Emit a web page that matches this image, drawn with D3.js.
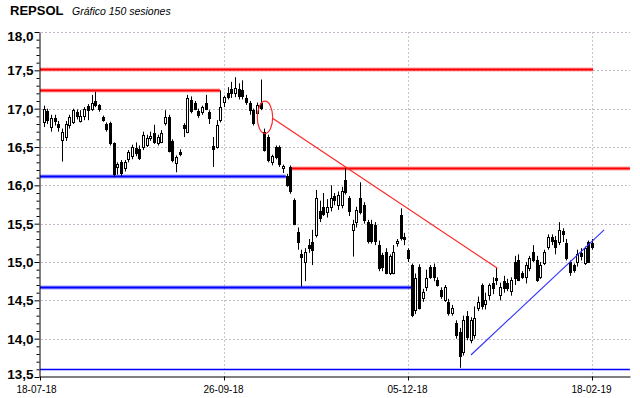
<!DOCTYPE html>
<html><head><meta charset="utf-8">
<script src="https://cdn.jsdelivr.net/npm/d3@7/dist/d3.min.js"></script>
<style>body{margin:0;background:#fff}svg{display:block}</style></head>
<body><svg id="c" width="640" height="398"></svg>
<script>
// ---- data (sessions 1..150) ----
const opens=[16.82,16.97,16.76,16.88,16.80,16.59,16.63,16.79,16.83,16.96,16.84,16.91,17.04,17.00,17.10,17.05,16.89,16.80,16.81,16.55,
16.24,16.30,16.22,16.34,16.38,16.49,16.48,16.50,16.53,16.62,16.68,16.55,16.57,16.81,16.89,16.58,16.29,16.43,16.79,16.70,
17.11,17.07,16.97,16.96,17.07,16.96,16.51,16.50,16.85,17.09,17.20,17.26,17.20,17.25,17.24,17.14,17.07,16.98,16.94,17.07,
16.70,16.63,16.30,16.50,16.50,16.22,16.12,16.24,15.81,15.39,15.10,15.00,15.22,15.26,15.35,15.66,15.72,15.65,15.72,15.86,
15.74,15.75,16.07,15.83,15.42,15.52,15.84,15.74,15.52,15.50,15.48,15.22,15.09,15.13,14.86,14.86,15.25,15.61,15.33,15.16,
14.96,14.38,14.94,14.53,14.68,14.94,14.93,14.77,14.64,14.51,14.48,14.34,14.20,14.09,13.82,14.30,13.98,14.05,14.40,14.70,
14.45,14.57,14.72,14.79,14.57,14.75,14.72,14.62,15.00,15.03,14.86,14.80,14.92,15.13,15.03,14.80,14.99,15.20,15.32,15.29,
15.26,15.40,15.25,15.00,14.96,15.00,15.12,14.99,15.26,15.25];
const highs=[17.04,17.00,16.92,16.92,16.84,16.74,16.84,16.92,17.00,16.99,16.98,17.02,17.06,17.18,17.22,17.06,16.91,16.82,16.83,16.56,
16.30,16.33,16.33,16.46,16.53,16.56,16.52,16.70,16.66,16.70,16.79,16.66,16.72,16.98,16.92,16.60,16.39,16.47,16.81,17.18,
17.16,17.10,17.00,17.04,17.18,16.98,16.63,16.85,17.24,17.17,17.28,17.35,17.41,17.33,17.37,17.18,17.10,17.00,17.08,17.38,
16.74,16.66,16.40,16.52,16.52,16.27,16.15,16.26,15.83,15.45,15.16,15.18,15.30,15.42,15.94,15.80,15.90,15.82,16.00,15.90,
15.92,15.98,16.23,15.86,15.55,15.72,16.04,15.78,15.55,15.55,15.52,15.28,15.12,15.18,15.10,15.22,15.30,15.70,15.38,15.18,
14.98,14.85,14.97,14.65,14.90,14.96,14.98,14.80,14.67,14.70,14.52,14.44,14.24,14.14,14.30,14.36,14.28,14.42,14.55,14.72,
14.60,14.72,14.80,14.92,14.73,14.82,14.78,14.80,15.08,15.10,14.88,15.00,15.08,15.22,15.08,15.00,15.16,15.36,15.36,15.34,
15.52,15.44,15.30,15.02,14.98,15.16,15.18,15.20,15.28,15.30];
const lows=[16.76,16.80,16.70,16.78,16.70,16.31,16.58,16.74,16.80,16.86,16.82,16.85,16.85,16.97,17.02,16.96,16.83,16.70,16.52,16.11,
16.14,16.12,16.18,16.30,16.34,16.38,16.33,16.46,16.50,16.58,16.54,16.52,16.55,16.78,16.43,16.30,16.17,16.38,16.63,16.68,
16.94,16.98,16.88,16.92,16.98,16.80,16.24,16.48,16.82,17.02,17.12,17.14,17.15,17.12,17.12,17.05,16.92,16.78,16.90,16.98,
16.44,16.30,16.26,16.34,16.24,16.16,15.98,15.89,15.48,15.16,14.68,14.75,15.12,14.96,15.32,15.52,15.60,15.58,15.66,15.74,
15.68,15.70,15.88,15.60,15.07,15.45,15.62,15.50,15.24,15.24,15.22,14.88,14.88,14.84,14.83,14.84,15.20,15.28,15.22,15.00,
14.28,14.32,14.38,14.48,14.62,14.78,14.75,14.68,14.52,14.48,14.30,14.30,14.00,13.62,13.78,13.98,13.94,14.00,14.36,14.38,
14.38,14.50,14.58,14.70,14.50,14.60,14.62,14.56,14.70,14.75,14.78,14.72,14.88,15.00,14.74,14.78,14.96,15.16,15.22,15.10,
15.22,15.26,15.02,14.82,14.86,14.94,15.02,14.96,14.99,15.16];
const closes=[16.99,16.85,16.88,16.84,16.76,16.70,16.80,16.89,16.98,16.90,16.90,17.00,16.98,17.07,17.05,17.00,16.85,16.74,16.55,16.15,
16.28,16.16,16.31,16.43,16.50,16.42,16.36,16.66,16.62,16.64,16.57,16.63,16.68,16.89,16.45,16.33,16.37,16.41,16.75,17.14,
16.97,17.00,16.92,17.02,17.00,16.88,16.48,16.79,17.02,17.15,17.15,17.20,17.27,17.16,17.16,17.09,16.98,16.81,17.05,17.01,
16.46,16.33,16.38,16.37,16.28,16.25,16.00,15.92,15.50,15.26,15.06,15.13,15.18,15.16,15.83,15.58,15.63,15.72,15.84,15.81,
15.88,15.93,15.91,15.66,15.50,15.68,15.65,15.55,15.27,15.27,15.28,14.92,14.94,14.86,15.08,15.13,15.27,15.31,15.30,15.05,
14.31,14.79,14.40,14.61,14.79,14.81,14.80,14.70,14.55,14.68,14.34,14.40,14.05,13.78,14.25,14.02,14.25,14.27,14.48,14.42,
14.50,14.70,14.66,14.77,14.68,14.66,14.66,14.76,14.79,14.77,14.81,14.96,15.05,15.03,14.77,14.96,15.13,15.33,15.27,15.20,
15.42,15.36,15.05,14.87,14.90,15.10,15.08,15.18,15.00,15.20];

const dateTickIdx=[0,50,100,150];
const dateTickLabels=["18-07-18","26-09-18","05-12-18","18-02-19"];
const yTickValues=[13.5,14.0,14.5,15.0,15.5,16.0,16.5,17.0,17.5,18.0];
// horizontal levels: [price, fromSession, toSession]
const resistanceLevels=[[17.52,0,150.3],[17.24,0,48.9],[16.23,68.1,160.3]];
const supportLevels=[[16.12,0,66.8],[14.67,0,101.0]];
const floorLevel=[13.61,0,160.3];
// trend lines: [session1, price1, session2, price2]
const downTrend=[63.2,16.874,124.3,14.918];
const upTrend=[117.1,13.787,153.3,15.418];
// marked zone: [session, price, sessionRadius, priceRadius]
const markedZone=[61.14,16.887,2.09,0.211];

// ---- drawing ----
const svg=d3.select("#c");
const W=640,H=398;
const x=d3.scaleLinear().domain([0,160.33]).range([40,630]);
const y=d3.scaleLinear().domain([13.5,18]).range([377,32]);
const FONT="'Liberation Sans', Arial, sans-serif";

svg.append("rect").attr("width",W).attr("height",H).attr("fill","#fff");

// title
svg.append("text").attr("x",10).attr("y",15).attr("font-family",FONT).attr("font-weight","bold")
  .attr("font-size",13).attr("fill","#000").text("REPSOL");
svg.append("text").attr("x",72).attr("y",15).attr("font-family",FONT).attr("font-style","italic")
  .attr("font-size",10.5).attr("fill","#000").text("Gráfico 150 sesiones");

// grid
const grid=svg.append("g");
yTickValues.filter(v=>v>13.5).forEach(v=>{
  grid.append("line").attr("x1",41).attr("x2",630).attr("y1",Math.round(y(v))+0.5).attr("y2",Math.round(y(v))+0.5)
    .attr("stroke","#c4b6c6").attr("stroke-width",1).attr("stroke-dasharray","2,2");
});
dateTickIdx.filter(v=>v>0).forEach(v=>{
  grid.append("line").attr("x1",Math.round(x(v))+0.5).attr("x2",Math.round(x(v))+0.5).attr("y1",32).attr("y2",377)
    .attr("stroke","#c8c8c8").attr("stroke-width",1).attr("stroke-dasharray","2,2");
});

// horizontal levels
function level(l,color){
  const yy=Math.round(y(l[0]))+0.5;
  svg.append("line").attr("x1",x(l[1])).attr("x2",x(l[2])).attr("y1",yy).attr("y2",yy)
    .attr("stroke",color).attr("stroke-opacity",0.35).attr("stroke-width",4);
  svg.append("line").attr("x1",x(l[1])).attr("x2",x(l[2])).attr("y1",yy).attr("y2",yy)
    .attr("stroke",color).attr("stroke-width",2);
}
resistanceLevels.forEach(l=>level(l,"#ff0000"));
supportLevels.forEach(l=>level(l,"#0000ff"));
{
  const yy=Math.round(y(floorLevel[0]))+0.5;
  svg.append("line").attr("x1",x(floorLevel[1])).attr("x2",x(floorLevel[2])).attr("y1",yy).attr("y2",yy)
    .attr("stroke","#0000ff").attr("stroke-width",1.5);
}

// candles
const candles=opens.map((o,i)=>({i:i+1,o:o,h:highs[i],l:lows[i],c:closes[i]}));
const cg=svg.append("g");
candles.forEach(d=>{
  const cx=Math.round(x(d.i));
  cg.append("line").attr("x1",cx+0.5).attr("x2",cx+0.5).attr("y1",y(d.h)).attr("y2",y(d.l))
    .attr("stroke","#000").attr("stroke-width",1);
  const top=y(Math.max(d.o,d.c)), bot=y(Math.min(d.o,d.c));
  if(d.c>=d.o){
    cg.append("rect").attr("x",cx-0.5).attr("y",Math.round(top)+0.5).attr("width",2)
      .attr("height",Math.max(1,Math.round(bot)-Math.round(top)))
      .attr("fill","#fff").attr("stroke","#000").attr("stroke-width",1);
  } else {
    cg.append("rect").attr("x",cx-1).attr("y",Math.round(top)).attr("width",3)
      .attr("height",Math.max(1,Math.round(bot)-Math.round(top)+1)).attr("fill","#000");
  }
});

// trend lines
svg.append("line").attr("x1",x(downTrend[0])).attr("y1",y(downTrend[1])).attr("x2",x(downTrend[2])).attr("y2",y(downTrend[3]))
  .attr("stroke","#ff2020").attr("stroke-width",1.1);
svg.append("line").attr("x1",x(upTrend[0])).attr("y1",y(upTrend[1])).attr("x2",x(upTrend[2])).attr("y2",y(upTrend[3]))
  .attr("stroke","#3030ff").attr("stroke-width",1.1);
svg.append("ellipse").attr("cx",x(markedZone[0])).attr("cy",y(markedZone[1]))
  .attr("rx",x(markedZone[2])-x(0)).attr("ry",y(0)-y(markedZone[3])+0)
  .attr("fill","none").attr("stroke","#ff2020").attr("stroke-width",1.1);
// fix ry (price radius in pixels)
svg.select("ellipse").attr("ry",Math.abs(y(markedZone[1]+markedZone[3])-y(markedZone[1])));

// y axis
const fmt=v=>d3.format(".1f")(v).replace(".",",");
const minorVals=d3.range(135,181).map(v=>v/10).filter(v=>Math.round(v*10)%5!==0);
const yAxisMinor=d3.axisLeft(y).tickValues(minorVals).tickSize(3).tickFormat("").tickSizeOuter(0);
const yAxis=d3.axisLeft(y).tickValues(yTickValues).tickSize(5).tickPadding(1).tickFormat(fmt).tickSizeOuter(0);
const gym=svg.append("g").attr("transform","translate(39.5,0)").call(yAxisMinor);
gym.select(".domain").remove();
gym.selectAll(".tick line").attr("stroke","#000");
const gy=svg.append("g").attr("transform","translate(39.5,0)").call(yAxis);
gy.select(".domain").attr("stroke","#000");
gy.selectAll(".tick line").attr("stroke","#000");
gy.selectAll(".tick text").attr("font-family",FONT).attr("font-weight","bold").attr("font-size",13.5).attr("fill","#000")
  .attr("dy",d=>d===18?"0.62em":(d===13.5?"0.1em":"0.33em"));

// x axis
const xAxis=d3.axisBottom(x).tickValues(dateTickIdx).tickSize(4).tickPadding(5)
  .tickFormat((d,i)=>dateTickLabels[i]).tickSizeOuter(0);
const gx=svg.append("g").attr("transform","translate(0,376.5)").call(xAxis);
gx.select(".domain").attr("stroke","#000");
gx.selectAll(".tick line").attr("stroke","#000");
gx.selectAll(".tick text").attr("font-family",FONT).attr("font-size",10).attr("fill","#000")
  .attr("dx",(d,i)=>i===0?"-4":"-1");
</script>
</body></html>
